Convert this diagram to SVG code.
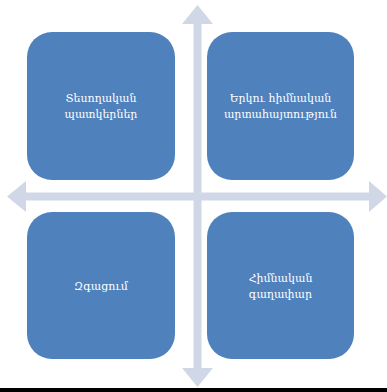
<svg xmlns="http://www.w3.org/2000/svg" width="387" height="392" viewBox="0 0 387 392">
<style>
.box{fill:#4F81BD}
.arr{fill:#D0D8E8}
.t{fill:#FFFFFF;font-family:"DejaVu Serif","Liberation Serif",serif;font-size:11px;text-anchor:middle;dominant-baseline:central}
</style>
<rect width="387" height="392" fill="#FFFFFF"/>
<g id="connectors">
<polygon class="arr" points="197.5,5 213,24 201.5,24 201.5,368 213,368 197.5,387 182,368 193.5,368 193.5,24 182,24"/>
<polygon class="arr" points="7,196.5 26,181 26,192.5 369,192.5 369,181 387,196.5 369,212 369,200.5 26,200.5 26,212"/>
</g>
<g id="n1"><rect class="box" x="27" y="32" width="148" height="148" rx="25"/>
<text class="t" x="101" y="98">Տեսողական</text><text class="t" x="101" y="114">պատկերներ</text></g>
<g id="n2"><rect class="box" x="207" y="32" width="147" height="148" rx="25"/>
<text class="t" x="280.5" y="98">Երկու հիմնական</text><text class="t" x="280.5" y="114">արտահայտություն</text></g>
<g id="n3"><rect class="box" x="27" y="212" width="148" height="147" rx="25"/>
<text class="t" x="101" y="286">Զգացում</text></g>
<g id="n4"><rect class="box" x="207" y="212" width="147" height="147" rx="25"/>
<text class="t" x="280.5" y="278">Հիմնական</text><text class="t" x="280.5" y="294">գաղափար</text></g>
<rect x="0" y="388" width="387" height="4" fill="#000000"/>
</svg>
